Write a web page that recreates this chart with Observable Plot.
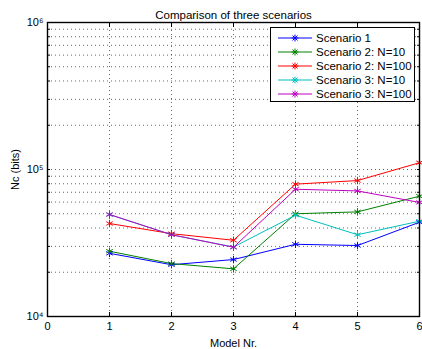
<!DOCTYPE html>
<html>
<head>
<meta charset="utf-8">
<script src="https://cdn.jsdelivr.net/npm/d3@7"></script>
<script src="https://cdn.jsdelivr.net/npm/@observablehq/plot@0.6"></script>
<style>
  html, body { margin: 0; padding: 0; background: #fff; }
  #wrap { position: relative; width: 422px; height: 349px; font-family: "Liberation Sans", Arial, sans-serif; }
  #legend { position: absolute; left: 270px; top: 27px; width: 145px; height: 75px; border: 1.3px solid #000; background: #fff; box-sizing: border-box; padding-top: 3px; }
  .row { display: flex; align-items: center; height: 14px; font-size: 11.5px; color: #000; white-space: nowrap; }
  .row svg { margin-left: 7px; margin-right: 4px; flex: none; }
</style>
</head>
<body>
<div id="wrap"></div>
<script>
const title = "Comparison of three scenarios";
const xLabel = "Model Nr.";
const yLabel = "Nc (bits)";
const models = [1, 2, 3, 4, 5, 6];
const seriesNames = ["Scenario 1", "Scenario 2: N=10", "Scenario 2: N=100", "Scenario 3: N=10", "Scenario 3: N=100"];
const seriesColors = ["#0000ff", "#008000", "#ff0000", "#00bfbf", "#bf00bf"];
const scenario1 = [26900, 22500, 24400, 31000, 30400, 43800];
const scenario2N10 = [27800, 22900, 21100, 50000, 51500, 65800];
const scenario2N100 = [42900, 36600, 33000, 79500, 84100, 111200];
const scenario3N10 = [49400, 36000, 29700, 48900, 36000, 44500];
const scenario3N100 = [49400, 36000, 29600, 73400, 71500, 59700];
const xTicks = [0, 1, 2, 3, 4, 5, 6];
const yMajor = [1e4, 1e5, 1e6];
const yTickLabels = ["10\u2074", "10\u2075", "10\u2076"];

const allSeries = [scenario1, scenario2N10, scenario2N100, scenario3N10, scenario3N100];
const rows = [];
allSeries.forEach((vals, i) => vals.forEach((v, j) => rows.push({series: seriesNames[i], x: models[j], y: v})));

const yMinor = [];
for (let e = 4; e < 6; e++) for (let m = 2; m <= 9; m++) yMinor.push(m * Math.pow(10, e));
const yAll = yMajor.concat(yMinor);
const yFmt = d => { const i = yMajor.indexOf(d); return i >= 0 ? yTickLabels[i] : ""; };

const gridStyle = {stroke: "#000", strokeOpacity: 0.6, strokeDasharray: "1,3", strokeWidth: 1};

const chart = Plot.plot({
  width: 422,
  height: 349,
  marginLeft: 47,
  marginRight: 3,
  marginTop: 22,
  marginBottom: 33,
  style: {fontFamily: "Liberation Sans, Arial, sans-serif", fontSize: "11px", background: "#fff", color: "#000"},
  x: {domain: [0, 6]},
  y: {type: "log", domain: [1e4, 1e6]},
  color: {domain: seriesNames, range: seriesColors},
  marks: [
    Plot.gridX([1, 2, 3, 4, 5], gridStyle),
    Plot.gridY(yAll.filter(d => d > 1e4 && d < 1e6), gridStyle),
    Plot.axisX({ticks: xTicks, tickSize: -4, tickPadding: 10, tickFormat: d3.format("d"), label: xLabel, labelAnchor: "center", labelArrow: "none", labelOffset: 30, fontSize: 11}),
    Plot.axisX({anchor: "top", ticks: xTicks, tickSize: -4, tickFormat: () => "", label: null}),
    Plot.axisY({ticks: yAll, tickSize: -3, tickPadding: 7, tickFormat: yFmt, label: yLabel, labelAnchor: "center", labelArrow: "none", labelOffset: 36, fontSize: 11}),
    Plot.axisY({anchor: "right", ticks: yAll, tickSize: -3, tickFormat: () => "", label: null}),
    Plot.line(rows, {x: "x", y: "y", z: "series", stroke: "series", strokeWidth: 1}),
    Plot.dot(rows, {x: "x", y: "y", stroke: "series", symbol: "asterisk", r: 3.5, strokeWidth: 1}),
    Plot.frame({stroke: "#000", strokeWidth: 1.4}),
    Plot.text([title], {frameAnchor: "top", dy: -12, text: d => d, fontSize: 11.5, fill: "#000"})
  ]
});
const wrap = document.getElementById("wrap");
wrap.appendChild(chart);

const legend = document.createElement("div");
legend.id = "legend";
seriesNames.forEach((name, i) => {
  const row = document.createElement("div");
  row.className = "row";
  const c = seriesColors[i];
  row.innerHTML = `<svg width="34" height="10"><line x1="0" y1="5" x2="34" y2="5" stroke="${c}" stroke-width="1"/>` +
    `<g stroke="${c}" stroke-width="1" transform="translate(17,5)"><line x1="-3.5" y1="0" x2="3.5" y2="0"/><line x1="0" y1="-3.5" x2="0" y2="3.5"/><line x1="-2.5" y1="-2.5" x2="2.5" y2="2.5"/><line x1="-2.5" y1="2.5" x2="2.5" y2="-2.5"/></g></svg><span>${name}</span>`;
  legend.appendChild(row);
});
wrap.appendChild(legend);
</script>
</body>
</html>
